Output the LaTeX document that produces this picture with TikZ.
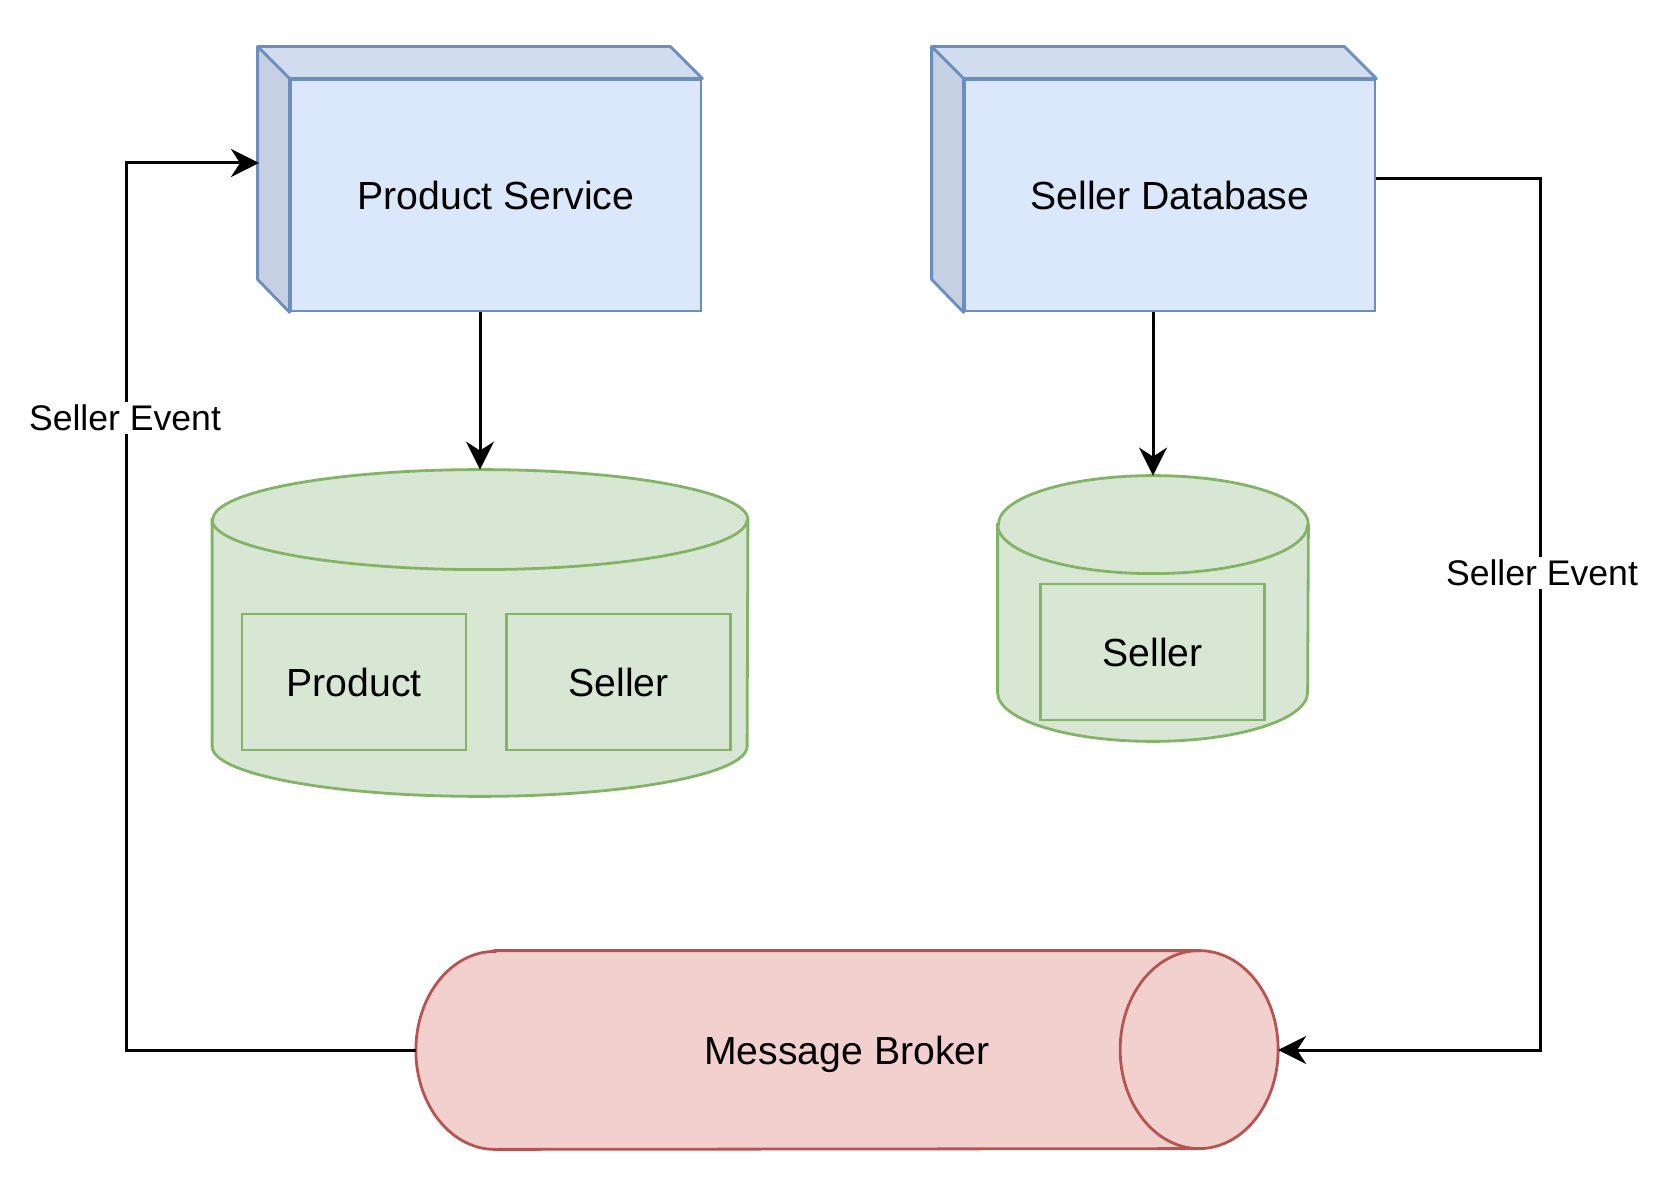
\documentclass[tikz,border=0pt]{standalone}
\usepackage{fontspec}
\setmainfont{Liberation Sans}
\usetikzlibrary{arrows.meta,calc}

\definecolor{bleuface}{HTML}{DBE7FA}
\definecolor{bleuhaut}{HTML}{D1DCEE}
\definecolor{bleucote}{HTML}{C5D0E2}
\definecolor{bleutrait}{HTML}{6C8EBF}
\definecolor{vertfond}{HTML}{D8E7D4}
\definecolor{verttrait}{HTML}{82B366}
\definecolor{rougefond}{HTML}{F2D0CE}
\definecolor{rougetrait}{HTML}{B85450}

\begin{document}
\begin{tikzpicture}[x=0.5pt,y=0.5pt]
        \tikzstyle{face}=[rectangle, draw=bleutrait, fill=bleuface, line width=1.4pt, inner sep=0,
          minimum width=205pt, minimum height=115.5pt, font=\fontsize{19.6}{23}\selectfont];
        \tikzstyle{pan}=[draw=bleutrait, line width=1.4pt, line join=round];
        \tikzstyle{base}=[draw=verttrait, fill=vertfond, line width=1.4pt];
        \tikzstyle{table}=[rectangle, draw=verttrait, line width=1.4pt, inner sep=0,
          minimum width=112pt, minimum height=68pt, font=\fontsize{19.6}{23}\selectfont];
        \tikzstyle{tuyau}=[draw=rougetrait, line width=1.4pt];
        \tikzstyle{fleche}=[line width=1.5pt, -{Stealth[length=14pt, width=14pt, inset=4.5pt]}];
        \tikzstyle{etiquette}=[fill=white, inner sep=1.5pt, font=\fontsize{17.8}{21}\selectfont];

        \useasboundingbox (0,0) rectangle (1666,1190);

        % les deux services en cube
        \node[face] (ps) at (496,994.5) {Product Service};
        \node[face] (sd) at (1170,994.5) {Seller Database};
        \foreach \c in {ps,sd}{
          \draw[pan, fill=bleuhaut] (\c.north west) -- ++(-32,32) -- ($(\c.north east)+(-32,32)$)
            -- (\c.north east) -- cycle;
          \draw[pan, fill=bleucote] (\c.north west) -- ++(-32,32) -- ($(\c.south west)+(-32,33)$)
            -- (\c.south west) -- cycle;
        }

        % les bases (cylindres)
        \node[minimum width=267.5pt, minimum height=163pt, inner sep=0] (pst) at (480,557) {};
        \node[minimum width=155pt, minimum height=132.5pt, inner sep=0] (sst) at (1153,581.5) {};
        \draw[base] ($(pst.north west)+(0,-50)$) -- ($(pst.south west)+(0,50)$)
          arc[start angle=180, end angle=360, x radius=267.5, y radius=50]
          -- ($(pst.north east)+(0,-50)$)
          arc[start angle=0, end angle=180, x radius=267.5, y radius=50] -- cycle;
        \draw[base, fill=none] ($(pst.north west)+(0,-50)$)
          arc[start angle=180, end angle=360, x radius=267.5, y radius=50];
        \draw[base] ($(sst.north west)+(0,-49)$) -- ($(sst.south west)+(0,49)$)
          arc[start angle=180, end angle=360, x radius=155, y radius=49]
          -- ($(sst.north east)+(0,-49)$)
          arc[start angle=0, end angle=180, x radius=155, y radius=49] -- cycle;
        \draw[base, fill=none] ($(sst.north west)+(0,-49)$)
          arc[start angle=180, end angle=360, x radius=155, y radius=49];

        \node[table] (tp) at (354,508) {Product};
        \node[table] (ts) at (618.5,508) {Seller};
        \node[table] (ts2) at (1152.5,538) {Seller};

        % le broker
        \node[minimum width=430.75pt, minimum height=99pt, inner sep=0] (mb) at (847,140) {};
        \draw[tuyau, fill=rougefond]
          ($(mb.north west)+(79,0)$) -- ($(mb.north east)+(-79,0)$)
          arc[start angle=90, end angle=-90, x radius=79, y radius=99]
          -- ($(mb.south west)+(79,0)$)
          arc[start angle=270, end angle=90, x radius=79, y radius=99] -- cycle;
        \draw[tuyau] ($(mb.north east)+(-79,0)$)
          arc[start angle=90, end angle=270, x radius=79, y radius=99];
        \node[font=\fontsize{19.6}{23}\selectfont] (mbt) at ($(mb)+(0,-4)$) {Message Broker};

        % les fleches
        \coordinate (psin) at (259,1027);
        \coordinate (sdout) at ($(sd.east)+(0,17)$);
        \draw[fleche] (ps.south -| pst.north) -- (pst.north);
        \draw[fleche] (sd.south -| sst.north) -- (sst.north);
        \draw[fleche] (mb.west) -| ($(psin)+(-133,0)$) -- (psin);
        \draw[fleche] (sdout) -- ++(164,0) |- (mb.east);
        \node[etiquette] (ev1) at (125,772) {Seller Event};
        \node[etiquette] (ev2) at (1542,617) {Seller Event};
    \end{tikzpicture}
\end{document}
